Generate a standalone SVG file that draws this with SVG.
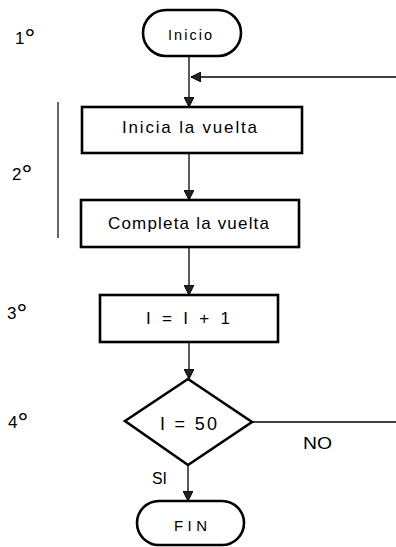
<svg xmlns="http://www.w3.org/2000/svg" width="396" height="547" viewBox="0 0 396 547">
  <defs>
    <marker id="arrow" viewBox="0 0 10 10" refX="10" refY="5" markerWidth="10" markerHeight="10" markerUnits="userSpaceOnUse" orient="auto">
      <path d="M0,0 L10,5 L0,10 Z" fill="#222" stroke="#000" stroke-width="1"/>
    </marker>
    <style>
      .shape { fill: #fff; stroke: #000; stroke-width: 2.6; }
      .edge { fill: none; stroke: #000; stroke-width: 1.3; }
      .lbl { font-family: "Liberation Sans", Arial, sans-serif; fill: #000; text-anchor: middle; }
      .step { font-family: "Liberation Sans", Arial, sans-serif; fill: #000; font-size: 17px; }
      .deg { font-size: 27px; }
    </style>
  </defs>
  <rect width="396" height="547" fill="#fff"/>

  <!-- step numbers with bracket for step 2 -->
  <g id="steps">
    <text class="step" x="15" y="44">1<tspan class="deg" dy="4">°</tspan></text>
    <text class="step" x="12" y="180">2<tspan class="deg" dy="4">°</tspan></text>
    <text class="step" x="7" y="319">3<tspan class="deg" dy="4">°</tspan></text>
    <text class="step" x="8" y="428">4<tspan class="deg" dy="4">°</tspan></text>
    <line x1="58" y1="102" x2="58" y2="238" stroke="#000" stroke-width="1.2"/>
  </g>

  <!-- connectors -->
  <g id="connectors">
    <line class="edge" x1="189" y1="56" x2="189" y2="107" marker-end="url(#arrow)"/>
    <line class="edge" x1="396" y1="77" x2="191" y2="77" marker-end="url(#arrow)"/>
    <line class="edge" x1="189" y1="153" x2="189" y2="200" marker-end="url(#arrow)"/>
    <line class="edge" x1="189" y1="247" x2="189" y2="295" marker-end="url(#arrow)"/>
    <line class="edge" x1="189" y1="342" x2="189" y2="379" marker-end="url(#arrow)"/>
    <line class="edge" x1="188" y1="465" x2="188" y2="501" marker-end="url(#arrow)"/>
    <line class="edge" x1="252" y1="422" x2="396" y2="422"/>
    <text class="lbl" x="317.5" y="449" font-size="16" textLength="29" lengthAdjust="spacingAndGlyphs">NO</text>
    <text class="lbl" x="159.5" y="484" font-size="16" textLength="15" lengthAdjust="spacingAndGlyphs">SI</text>
  </g>

  <g id="inicio">
    <rect class="shape" x="143" y="10" width="98" height="46" rx="23" ry="23"/>
    <text class="lbl" x="190" y="40" font-size="14.5" textLength="44" lengthAdjust="spacing">Inicio</text>
  </g>

  <g id="inicia">
    <rect class="shape" x="82" y="107" width="220" height="46"/>
    <text class="lbl" x="189.5" y="133" font-size="17" textLength="135" lengthAdjust="spacing">Inicia la vuelta</text>
  </g>

  <g id="completa">
    <rect class="shape" x="81" y="200" width="218" height="47"/>
    <text class="lbl" x="188.5" y="229" font-size="17" textLength="161" lengthAdjust="spacing">Completa la vuelta</text>
  </g>

  <g id="incremento">
    <rect class="shape" x="100" y="295" width="178" height="47"/>
    <text class="lbl" x="188" y="324" font-size="17" textLength="84" lengthAdjust="spacing">I = I + 1</text>
  </g>

  <g id="decision">
    <polygon class="shape" points="188,379 252,422 188,465 125,421" stroke-width="3.2" stroke-linejoin="miter"/>
    <text class="lbl" x="188.5" y="430" font-size="18" textLength="57" lengthAdjust="spacing">I = 50</text>
  </g>

  <g id="fin">
    <rect class="shape" x="137" y="501" width="107" height="44" rx="22" ry="22"/>
    <text class="lbl" x="190.5" y="531" font-size="15" textLength="33" lengthAdjust="spacing">FIN</text>
  </g>
</svg>
